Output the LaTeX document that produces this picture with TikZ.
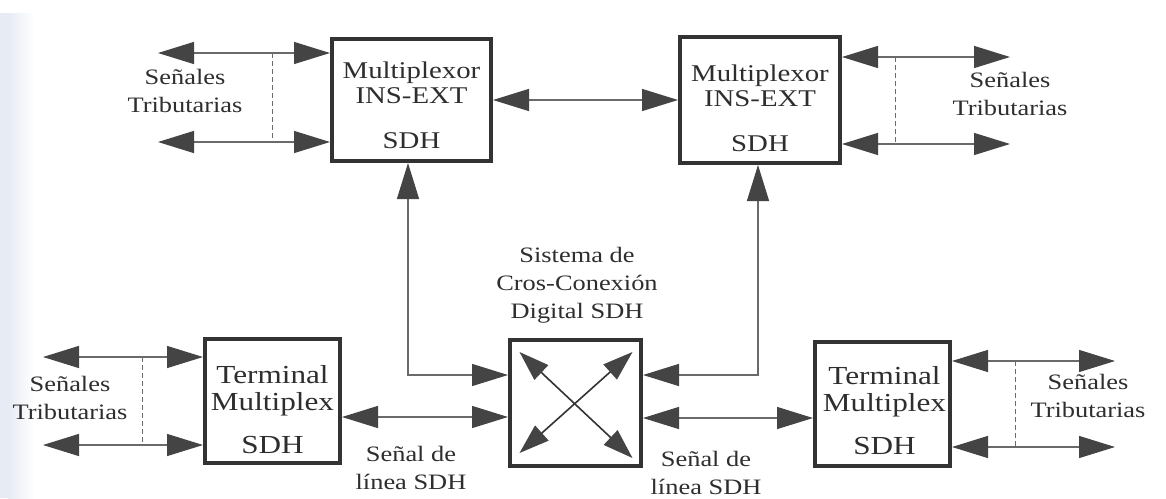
\documentclass[tikz,border=0pt]{standalone}
\usepackage{fontspec}
\setmainfont{Liberation Serif}[FakeStretch=1.2]
\usetikzlibrary{arrows.meta}
\definecolor{boxc}{HTML}{333333}
\definecolor{linec}{HTML}{6A6A6A}
\definecolor{headc}{HTML}{444444}
\definecolor{txtc}{HTML}{2E2E2E}
\definecolor{stripc}{HTML}{E6EBF4}
\tikzset{
  box/.style={draw=boxc, line width=4pt, fill=white, inner sep=0pt},
  boxtxt/.style={font=\fontsize{24}{25}\selectfont, align=center, text=txtc, inner sep=0pt},
  termtxt/.style={font=\fontsize{26}{27}\selectfont, align=center, text=txtc, inner sep=0pt},
  lbl/.style={font=\fontsize{22}{28}\selectfont, align=center, text=txtc, inner sep=0pt},
  dbl/.style={draw=linec, line width=1.3pt,
    {Triangle[length=36pt,width=22pt,color=headc]}-{Triangle[length=36pt,width=22pt,color=headc]}},
  xarr/.style={draw=boxc, line width=1.6pt,
    {Triangle[length=30pt,width=20pt,color=headc]}-{Triangle[length=30pt,width=20pt,color=headc]}},
  dashln/.style={draw=linec, line width=1pt, dashed, dash pattern=on 5pt off 3pt},
}
\begin{document}
\begin{tikzpicture}[x=1pt,y=-1pt]
\useasboundingbox (0,0) rectangle (1166,498);
\fill[white] (0,0) rectangle (1166,498);
\fill[left color=stripc, right color=white] (8,13) rectangle (34,498);
\fill[stripc] (0,13) rectangle (8,498);

% boxes
\node[box, minimum width=159pt, minimum height=122pt] (mux1) at (411.5,100) {};
\node[box, minimum width=160pt, minimum height=126pt] (mux2) at (760,100) {};
\node[box, minimum width=135pt, minimum height=124pt] (term1) at (272.5,401) {};
\node[box, minimum width=131pt, minimum height=126pt] (xc) at (575.5,403) {};
\node[box, minimum width=135pt, minimum height=124pt] (term2) at (882.5,404) {};

% box texts
\node[boxtxt] (mux1t) at ([shift={(0,5)}]mux1.center) {Multiplexor\\INS-EXT\\[20pt]SDH};
\node[boxtxt] (mux2t) at ([shift={(0,8)}]mux2.center) {Multiplexor\\INS-EXT\\[20pt]SDH};
\node[termtxt] (term1t) at ([shift={(0,9)}]term1.center) {Terminal\\Multiplex\\[16pt]SDH};
\node[termtxt] (term2t) at ([shift={(2,7)}]term2.center) {Terminal\\Multiplex\\[16pt]SDH};

% labels
\node[lbl] (s1) at (185,91) {Señales\\Tributarias};
\node[lbl] (s2) at (1010,94) {Señales\\Tributarias};
\node[lbl] (s3) at (70,398) {Señales\\Tributarias};
\node[lbl] (s4) at (1088,396) {Señales\\Tributarias};
\node[lbl] (xct) at (577,285) {Sistema de\\Cros-Conexión\\Digital SDH};
\node[lbl] (l1) at (411,468) {Señal de\\línea SDH};
\node[lbl] (l2) at (706,473) {Señal de\\línea SDH};

% tributary free ends
\coordinate (a1) at (158,53);  \coordinate (a2) at (158,142);
\coordinate (b1) at (1010,57); \coordinate (b2) at (1010,144);
\coordinate (c1) at (43,357);  \coordinate (c2) at (43,445);
\coordinate (e1) at (1115,361);\coordinate (e2) at (1115,447);
\coordinate (da) at (272,0); \coordinate (db) at (895,0);
\coordinate (dc) at (142,0); \coordinate (de) at (1015,0);

\draw[dbl] (a1) -- (a1 -| mux1.west);
\draw[dbl] (a2) -- (a2 -| mux1.west);
\draw[dashln] (a1 -| da) -- (a2 -| da);

\draw[dbl] (b1) -- (b1 -| mux2.east);
\draw[dbl] (b2) -- (b2 -| mux2.east);
\draw[dashln] (b1 -| db) -- (b2 -| db);

\draw[dbl] (c1) -- (c1 -| term1.west);
\draw[dbl] (c2) -- (c2 -| term1.west);
\draw[dashln] (c1 -| dc) -- (c2 -| dc);

\draw[dbl] (e1) -- (e1 -| term2.east);
\draw[dbl] (e2) -- (e2 -| term2.east);
\draw[dashln] (e1 -| de) -- (e2 -| de);

% main connections
\draw[dbl] (mux1.east) -- (mux2.west);
\draw[dbl] ([shift={(-3.5,0)}]mux1.south) |- ([shift={(0,-28)}]xc.west);
\draw[dbl] ([shift={(-2,0)}]mux2.south) |- ([shift={(0,-28)}]xc.east);
\coordinate (xl) at ([shift={(0,14)}]xc.west);
\coordinate (xr) at ([shift={(0,15)}]xc.east);
\draw[dbl] (xl -| term1.east) -- (xl);
\draw[dbl] (xr) -- (xr -| term2.west);

% cross arrows
\draw[xarr] ([shift={(-56,-51)}]xc.center) -- ([shift={(57,55)}]xc.center);
\draw[xarr] ([shift={(57,-51)}]xc.center) -- ([shift={(-56,50)}]xc.center);
\end{tikzpicture}
\end{document}
